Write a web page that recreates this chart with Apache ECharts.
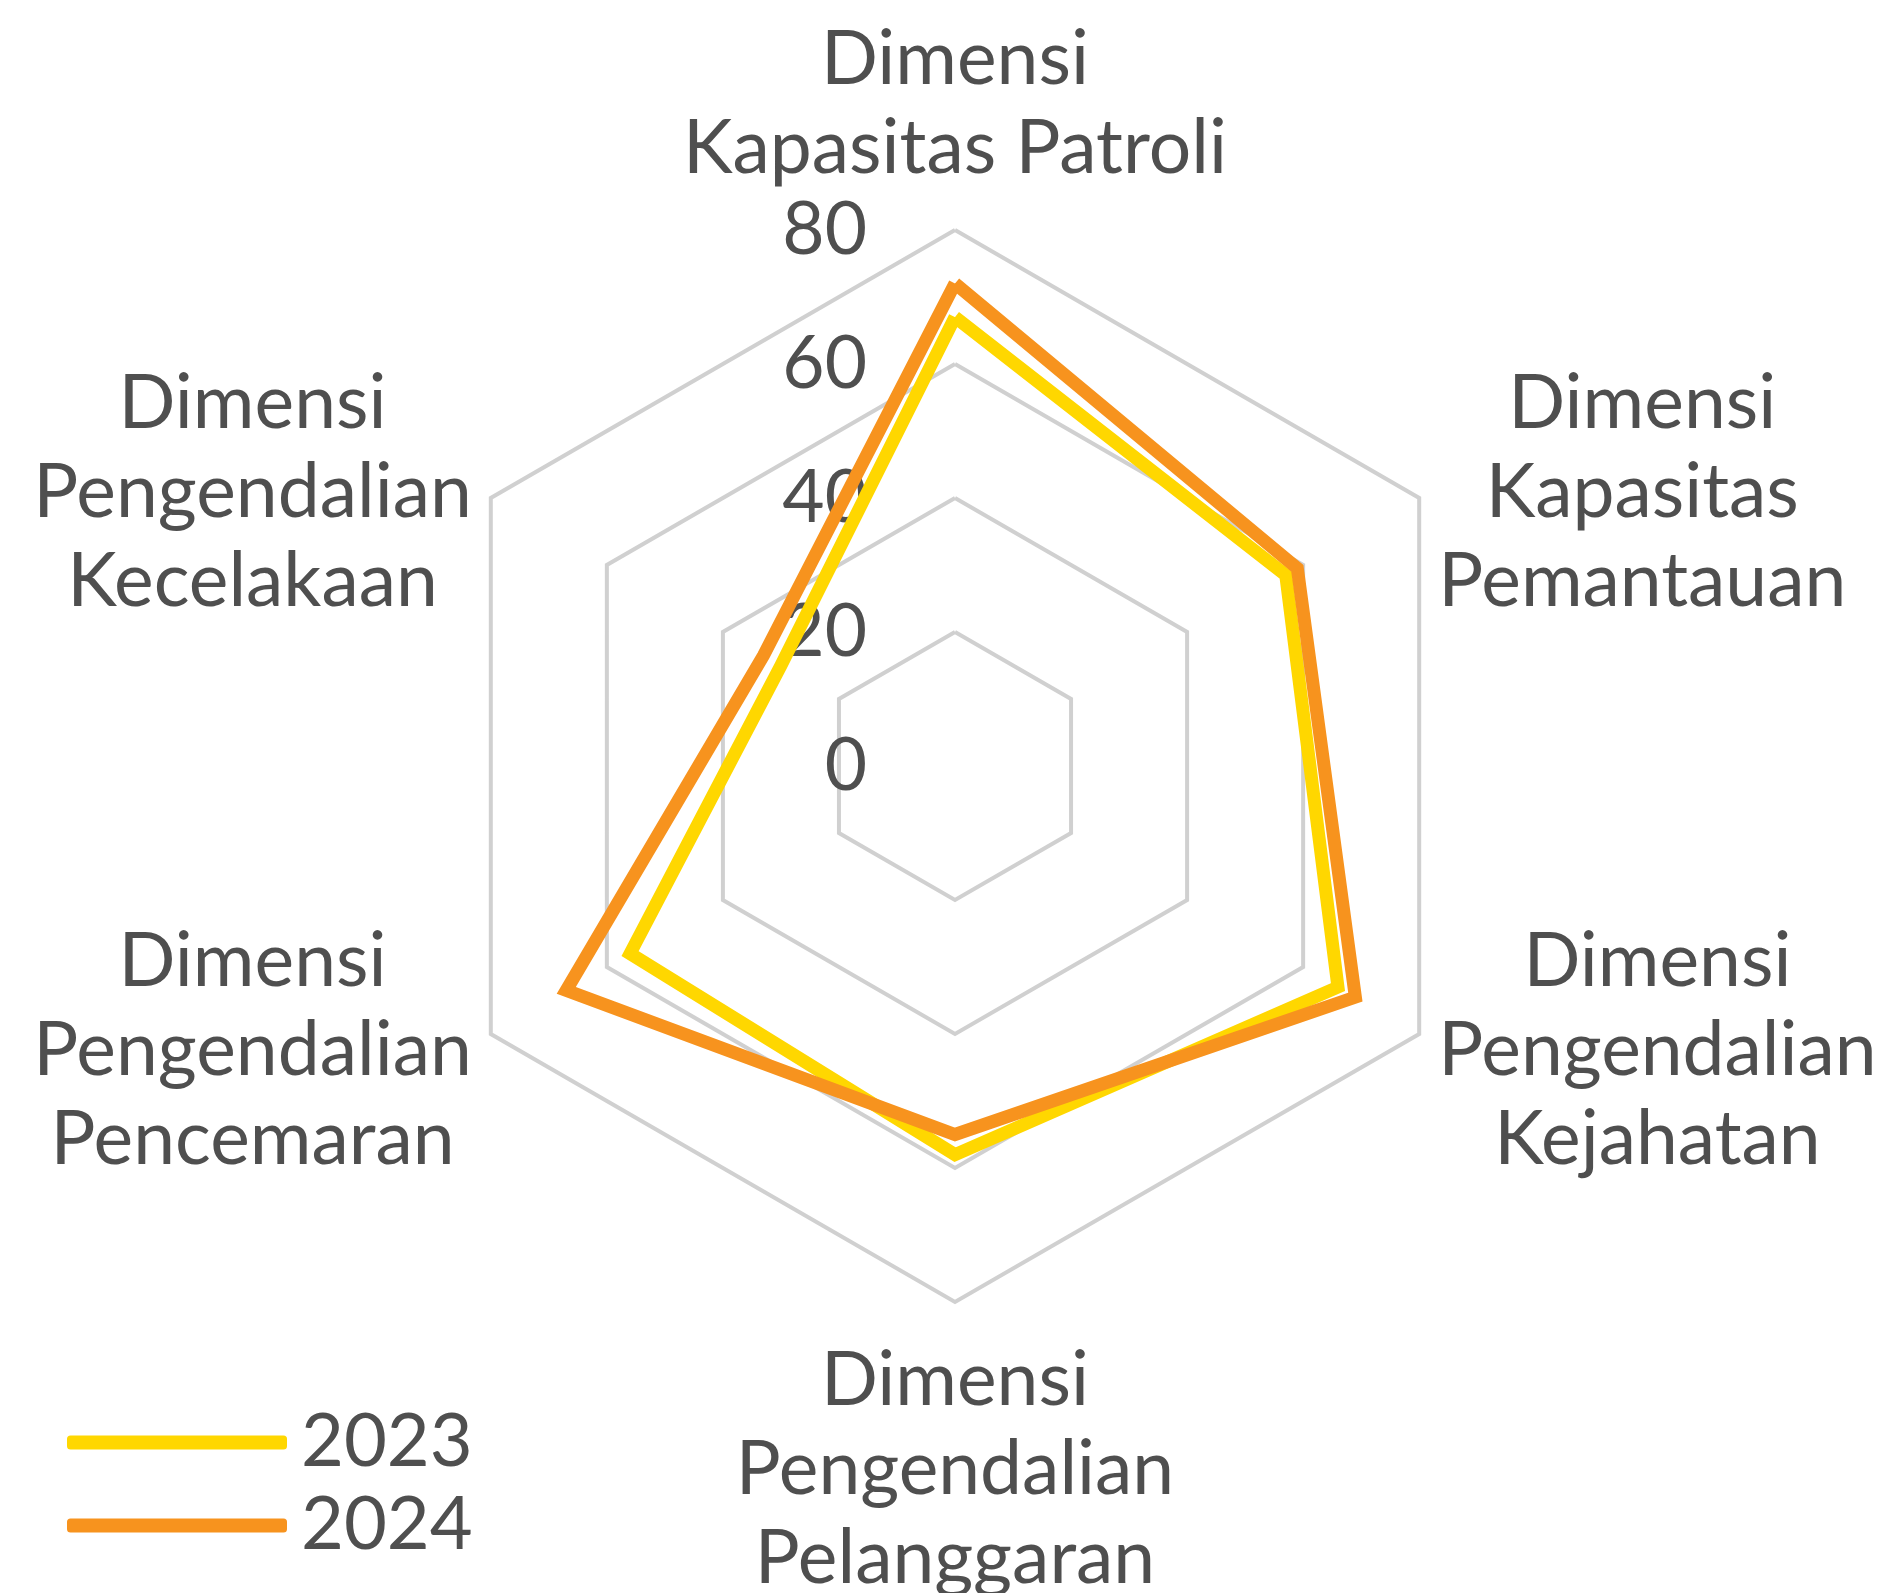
<!DOCTYPE html>
<html>
<head>
<meta charset="utf-8">
<script src="https://cdn.jsdelivr.net/npm/echarts@6/dist/echarts.min.js"></script>
<style>
  html, body { margin: 0; padding: 0; background: #fff; }
  #chart { width: 1899px; height: 1593px; }
</style>
</head>
<body>
<div id="chart"></div>
<script>
// indicators listed counter-clockwise from the top (ECharts radar order)
const DIMENSIONS = [
  'Dimensi\nKapasitas Patroli',
  'Dimensi\nPengendalian\nKecelakaan',
  'Dimensi\nPengendalian\nPencemaran',
  'Dimensi\nPengendalian\nPelanggaran',
  'Dimensi\nPengendalian\nKejahatan',
  'Dimensi\nKapasitas\nPemantauan',
];
const VALUES_2023 = [67, 30, 56, 58, 66, 57];
const VALUES_2024 = [72, 33, 67, 55, 69, 59];
const AXIS_MAX = 80;

const TEXT = '#4f4f4f';
const FONT = 'Lato';
const YELLOW = '#FFD700';
const ORANGE = '#F7931E';
const NAME_SIZE = 75;

const c = echarts.init(document.getElementById('chart'), null, { renderer: 'canvas' });

c.setOption({
  backgroundColor: '#fff',
  textStyle: { fontFamily: FONT, color: TEXT },
  color: [YELLOW, ORANGE],
  legend: {
    orient: 'vertical',
    left: 62, top: 1396,
    itemWidth: 220, itemHeight: 14, itemGap: 0,
    icon: 'roundRect',
    textStyle: { color: TEXT, fontFamily: FONT, fontSize: 74, lineHeight: 83, padding: [0, 0, 0, 9] },
    data: ['2023', '2024'],
  },
  radar: {
    center: [955, 766],
    radius: 536,
    shape: 'polygon',
    min: 0, max: AXIS_MAX,
    splitNumber: 4,
    nameGap: 22,
    axisName: {
      color: TEXT,
      fontFamily: FONT,
      fontSize: NAME_SIZE,
      lineHeight: 89,
      padding: [12, 0, 0, 0],
      formatter: v => v.split('\n').map(s => '{c|' + s + '}').join('\n'),
      rich: { c: { align: 'center', color: TEXT, fontFamily: FONT, fontSize: NAME_SIZE, lineHeight: 89 } },
    },
    axisLine: { show: false },
    axisTick: { show: false },
    axisLabel: { show: false, color: TEXT, fontFamily: FONT, fontSize: 73, margin: 88 },
    splitArea: { show: false },
    splitLine: { lineStyle: { color: '#d0d0d0', width: 4 } },
    indicator: DIMENSIONS.map((name, i) => (
      i === 0 ? { name, max: AXIS_MAX, axisLabel: { show: true } } : { name, max: AXIS_MAX }
    )),
  },
  series: [{
    type: 'radar',
    symbol: 'none',
    lineStyle: { width: 13, join: 'miter' },
    data: [
      { name: '2023', value: VALUES_2023, lineStyle: { color: YELLOW, width: 13, join: 'miter' }, itemStyle: { color: YELLOW } },
      { name: '2024', value: VALUES_2024, lineStyle: { color: ORANGE, width: 13, join: 'miter' }, itemStyle: { color: ORANGE } },
    ],
  }],
});
</script>
</body>
</html>
